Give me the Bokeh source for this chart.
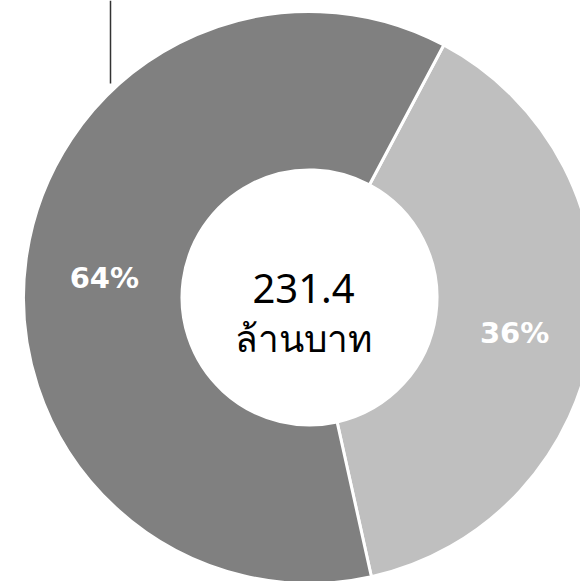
import math
from bokeh.plotting import figure
from bokeh.models import Range1d, ColumnDataSource
from bokeh.embed import file_html
from bokeh.resources import INLINE
from bokeh.core.properties import value

# ---- data ----
categories = ["light", "dark"]
shares = [38.75, 61.25]          # arc sizes as drawn (% of the ring)
pct_labels = ["36%", "64%"]      # labels printed on the ring
colors = ["#bfbfbf", "#808080"]
total_value = "231.4"
total_unit = "ล้านบาท"
start_clock_deg = 28.0           # first slice starts 28° clockwise from 12 o'clock

# ---- geometry ----
W, H = 580, 581
cx_px, cy_px = 309, 297
R_OUT, R_IN = 286, 127.5
R_LAB = 207

total = sum(shares)
starts, ends, lx, ly = [], [], [], []
acc = start_clock_deg
for s in shares:
    a0 = acc
    a1 = acc + 360.0 * s / total
    starts.append(math.radians(90 - a0))
    ends.append(math.radians(90 - a1))
    mid = math.radians((a0 + a1) / 2)
    lx.append(R_LAB * math.sin(mid))
    ly.append(R_LAB * math.cos(mid))
    acc = a1

src = ColumnDataSource(dict(cat=categories, start=starts, end=ends,
                            color=colors, lx=lx, ly=ly, lab=pct_labels))

p = figure(width=W, height=H, output_backend="svg", toolbar_location=None,
           x_axis_type=None, y_axis_type=None, min_border=0,
           x_range=Range1d(-cx_px, W - cx_px), y_range=Range1d(-(H - cy_px), cy_px))
p.outline_line_color = None
p.grid.visible = False
p.background_fill_color = "white"
p.border_fill_color = "white"

p.annular_wedge(x=0, y=0, inner_radius=R_IN, outer_radius=R_OUT,
                start_angle="start", end_angle="end", direction="clock",
                fill_color="color", line_color="white", line_width=3, source=src)

# leader line at top-left
p.segment(x0=[-199], y0=[cy_px], x1=[-199], y1=[cy_px - 83],
          line_color="#333333", line_width=1.5)

p.text(x="lx", y="ly", text="lab", source=src, text_color="white",
       text_font=value("DejaVu Sans"), text_font_style="bold",
       text_font_size="29px", text_align="center", text_baseline="middle",
       y_offset=8)

p.text(x=[0], y=[0], text=[total_value], text_color="black",
       text_font=value("Noto Sans"), text_font_size="40px",
       text_align="center", text_baseline="alphabetic", x_offset=-6, y_offset=-9)
p.text(x=[0], y=[0], text=[total_unit], text_color="black",
       text_font=value("Noto Sans"), text_font_size="37px",
       text_align="center", text_baseline="alphabetic", x_offset=-6, y_offset=40)

open("out.html", "w").write(file_html(p, INLINE))
